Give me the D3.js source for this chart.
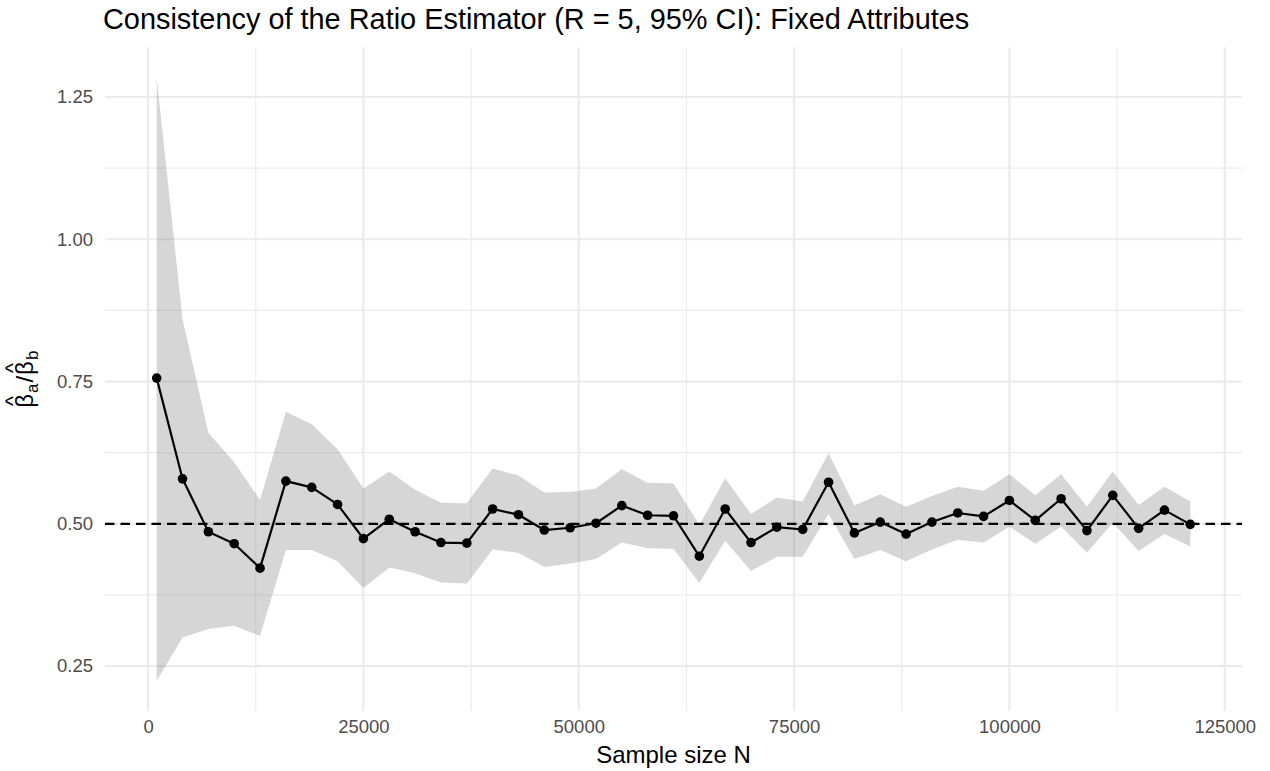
<!DOCTYPE html>
<html>
<head>
<meta charset="utf-8">
<script src="https://cdn.jsdelivr.net/npm/d3@7"></script>
<style>
  html, body { margin: 0; padding: 0; background: #ffffff; }
  svg { display: block; font-family: "Liberation Sans", Arial, sans-serif; }
</style>
</head>
<body>
<svg id="chart" width="1270" height="771"></svg>
<script>
// ---- data ----
const sampleSize = [1000, 4000, 7000, 10000, 13000, 16000, 19000, 22000, 25000, 28000,
  31000, 34000, 37000, 40000, 43000, 46000, 49000, 52000, 55000, 58000,
  61000, 64000, 67000, 70000, 73000, 76000, 79000, 82000, 85000, 88000,
  91000, 94000, 97000, 100000, 103000, 106000, 109000, 112000, 115000, 118000, 121000];
const estimate = [0.756, 0.579, 0.486, 0.465, 0.422, 0.575, 0.564, 0.534, 0.474, 0.508,
  0.486, 0.467, 0.466, 0.526, 0.516, 0.489, 0.493, 0.501, 0.532, 0.515,
  0.514, 0.443, 0.526, 0.467, 0.494, 0.490, 0.573, 0.484, 0.503, 0.482,
  0.503, 0.519, 0.513, 0.541, 0.506, 0.544, 0.488, 0.550, 0.492, 0.524, 0.499];
const ciUpper = [1.284, 0.860, 0.660, 0.608, 0.542, 0.697, 0.675, 0.631, 0.562, 0.592,
  0.560, 0.537, 0.536, 0.597, 0.585, 0.555, 0.556, 0.562, 0.596, 0.572,
  0.571, 0.498, 0.580, 0.517, 0.546, 0.539, 0.624, 0.532, 0.552, 0.530,
  0.549, 0.565, 0.558, 0.587, 0.550, 0.587, 0.530, 0.592, 0.533, 0.565, 0.539];
const ciLower = [0.224, 0.300, 0.315, 0.321, 0.303, 0.454, 0.454, 0.434, 0.387, 0.423,
  0.413, 0.397, 0.395, 0.455, 0.449, 0.424, 0.430, 0.438, 0.467, 0.457,
  0.456, 0.396, 0.470, 0.417, 0.442, 0.442, 0.517, 0.438, 0.454, 0.434,
  0.455, 0.472, 0.467, 0.495, 0.465, 0.495, 0.449, 0.502, 0.452, 0.482, 0.460];
const referenceValue = 0.5;
const xTicks = [0, 25000, 50000, 75000, 100000, 125000];
const xMinor = [12500, 37500, 62500, 87500, 112500];
const yTicks = [0.25, 0.50, 0.75, 1.00, 1.25];
const yMinor = [0.375, 0.625, 0.875, 1.125];
const titleText = "Consistency of the Ratio Estimator (R = 5, 95% CI): Fixed Attributes";
const xTitle = "Sample size N";

const data = sampleSize.map((n, i) => ({ n, est: estimate[i], lo: ciLower[i], hi: ciUpper[i] }));

// ---- layout ----
const panel = { left: 105, right: 1242, top: 47.5, bottom: 711 };
const svg = d3.select("#chart");

const xExt = d3.extent(sampleSize);
const xPad = (xExt[1] - xExt[0]) * 0.05;
const x = d3.scaleLinear().domain([xExt[0] - xPad, xExt[1] + xPad]).range([panel.left, panel.right]);

const yMin = d3.min(ciLower), yMax = d3.max(ciUpper);
const yPad = (yMax - yMin) * 0.05;
const y = d3.scaleLinear().domain([yMin - yPad, yMax + yPad]).range([panel.bottom, panel.top]);

const grid = svg.append("g");
// minor grid
grid.selectAll("line.ymin").data(yMinor).join("line")
  .attr("x1", panel.left).attr("x2", panel.right)
  .attr("y1", d => y(d)).attr("y2", d => y(d))
  .attr("stroke", "#ebebeb").attr("stroke-width", 1.1);
grid.selectAll("line.xmin").data(xMinor).join("line")
  .attr("y1", panel.top).attr("y2", panel.bottom)
  .attr("x1", d => x(d)).attr("x2", d => x(d))
  .attr("stroke", "#ebebeb").attr("stroke-width", 1.1);
// major grid
grid.selectAll("line.ymaj").data(yTicks).join("line")
  .attr("x1", panel.left).attr("x2", panel.right)
  .attr("y1", d => y(d)).attr("y2", d => y(d))
  .attr("stroke", "#ebebeb").attr("stroke-width", 2.2);
grid.selectAll("line.xmaj").data(xTicks).join("line")
  .attr("y1", panel.top).attr("y2", panel.bottom)
  .attr("x1", d => x(d)).attr("x2", d => x(d))
  .attr("stroke", "#ebebeb").attr("stroke-width", 2.2);

// ribbon
svg.append("path").datum(data)
  .attr("d", d3.area().x(d => x(d.n)).y0(d => y(d.lo)).y1(d => y(d.hi)))
  .attr("fill", "rgb(127,127,127)").attr("fill-opacity", 0.32);

// reference line
svg.append("line")
  .attr("x1", panel.left).attr("x2", panel.right)
  .attr("y1", y(referenceValue)).attr("y2", y(referenceValue))
  .attr("stroke", "#000").attr("stroke-width", 2.3)
  .attr("stroke-dasharray", "9.5,6");

// estimate line
svg.append("path").datum(data)
  .attr("d", d3.line().x(d => x(d.n)).y(d => y(d.est)))
  .attr("fill", "none").attr("stroke", "#000").attr("stroke-width", 2.2)
  .attr("stroke-linejoin", "round");

svg.selectAll("circle.pt").data(data).join("circle")
  .attr("cx", d => x(d.n)).attr("cy", d => y(d.est)).attr("r", 4.8)
  .attr("fill", "#000");

// axes (text only, theme_minimal style)
const xAxis = svg.append("g").attr("transform", `translate(0,${panel.bottom})`)
  .call(d3.axisBottom(x).tickValues(xTicks).tickFormat(d3.format("d")).tickSize(0).tickPadding(9));
xAxis.select(".domain").remove();
xAxis.selectAll("text").attr("font-size", 18.5).attr("fill", "#4d4d4d")
  .attr("font-family", "Liberation Sans, Arial, sans-serif");

const yAxis = svg.append("g").attr("transform", `translate(${panel.left},0)`)
  .call(d3.axisLeft(y).tickValues(yTicks).tickFormat(d3.format(".2f")).tickSize(0).tickPadding(12));
yAxis.select(".domain").remove();
yAxis.selectAll("text").attr("font-size", 18.5).attr("fill", "#4d4d4d")
  .attr("font-family", "Liberation Sans, Arial, sans-serif");

// title
svg.append("text").attr("x", 103).attr("y", 29)
  .attr("font-size", 28.9).attr("fill", "#000").text(titleText);

// x title
svg.append("text").attr("x", (panel.left + panel.right) / 2).attr("y", 763)
  .attr("text-anchor", "middle").attr("font-size", 24).attr("fill", "#000").text(xTitle);

// y title: beta-hat_a / beta-hat_b (rotated)
const yLab = svg.append("g").attr("transform", `translate(33,${(panel.top + panel.bottom) / 2}) rotate(-90)`);
const parts = [
  { t: "β", fs: 24, dy: 0, hat: true },
  { t: "a", fs: 17, dy: 5 },
  { t: "/", fs: 24, dy: 0 },
  { t: "β", fs: 24, dy: 0, hat: true },
  { t: "b", fs: 17, dy: 5 }
];
let cursor = 0;
const placed = [];
parts.forEach(p => {
  const el = yLab.append("text").attr("font-size", p.fs).attr("y", p.dy).attr("x", cursor).text(p.t);
  const w = el.node().getComputedTextLength();
  placed.push({ el, x: cursor, w, p });
  cursor += w + 1;
});
const total = cursor - 1;
placed.forEach(o => {
  o.el.attr("x", o.x - total / 2);
  if (o.p.hat) {
    yLab.append("text").attr("font-size", 21).attr("text-anchor", "middle")
      .attr("x", o.x - total / 2 + o.w / 2).attr("y", -13).text("^");
  }
});
</script>
</body>
</html>
